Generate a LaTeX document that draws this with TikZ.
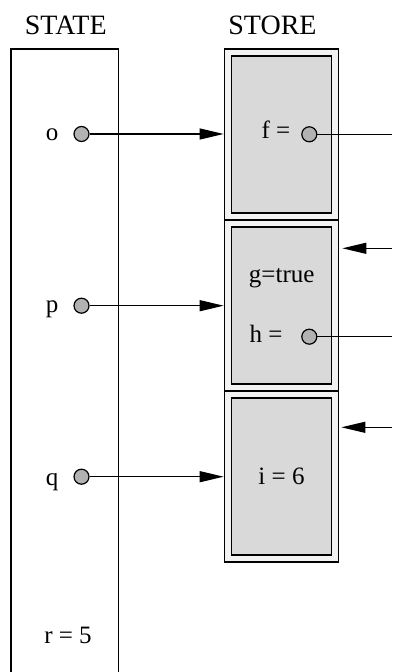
\documentclass[tikz,border=0pt]{standalone}
\usepackage{fontspec}
\setmainfont{Liberation Serif}
\usepackage{xcolor}
\usetikzlibrary{arrows.meta}

\begin{document}
\begin{tikzpicture}[x=0.5pt,y=-0.5pt,line width=0.6pt,
    >={Triangle[length=12pt,width=5.5pt]},
    font=\fontsize{12.5}{15}\selectfont,
    lbl/.style={anchor=base,inner sep=0pt},
    head/.style={lbl,font=\fontsize{14}{16}\selectfont},
    cell/.style={draw,fill=black!5,minimum width=57.25pt,minimum height=85.5pt,inner sep=0pt},
    slot/.style={draw,fill=black!15,minimum width=50pt,minimum height=78.5pt,inner sep=0pt},
    ref/.style={circle,draw,fill=black!30,minimum size=7.5pt,inner sep=0pt}]
  \useasboundingbox (0,0) rectangle (392,672);
  % state column, open at the bottom
  \draw (11,672) -- (11,49) -- (118.5,49) -- (118.5,672);
  \node[head] (statehd) at (65.8,35) {STATE};
  \node[head] (storehd) at (272.5,35) {STORE};
  % store: three cells, each a shaded slot in a frame
  \foreach \n/\y in {1/134.5,2/305.5,3/476.5} {
    \node[cell] (cell\n) at (281.5,\y) {};
    \node[slot] (slot\n) at (281.5,\y) {};
  }
  % variables in the state
  \node[lbl] (o) at (52,141) {o};
  \node[lbl] (p) at (52,312.3) {p};
  \node[lbl] (q) at (52,485) {q};
  \node[lbl] (r) at (68,643) {r = 5};
  \node[ref] (oref) at (81.5,134) {};
  \node[ref] (pref) at (81.5,305.7) {};
  \node[ref] (qref) at (81.5,476.7) {};
  % fields of the objects
  \node[lbl] (f) at (276,138.3) {f =};
  \node[ref] (fref) at (309.3,134.3) {};
  \node[lbl] (g) at (281.7,282.7) {g=true};
  \node[lbl] (h) at (266,342.7) {h =};
  \node[ref] (href) at (309.3,336.7) {};
  \node[lbl] (i) at (281.5,484) {i = 6};
  % pointers
  \draw[->] (oref) -- (oref -| cell1.west);
  \draw[->] (pref) -- (pref -| cell2.west);
  \draw[->] (qref) -- (qref -| cell3.west);
  \coordinate (fout) at (392,134.3);
  \coordinate (hout) at (392,336.7);
  \coordinate (in2) at (392,248.3);
  \coordinate (in3) at (392,427.3);
  \draw (fref) -- (fout);
  \draw (href) -- (hout);
  \draw[->,shorten >=1.5pt] (in2) -- (in2 -| cell2.east);
  \draw[->,shorten >=1pt] (in3) -- (in3 -| cell3.east);
\end{tikzpicture}
\end{document}
